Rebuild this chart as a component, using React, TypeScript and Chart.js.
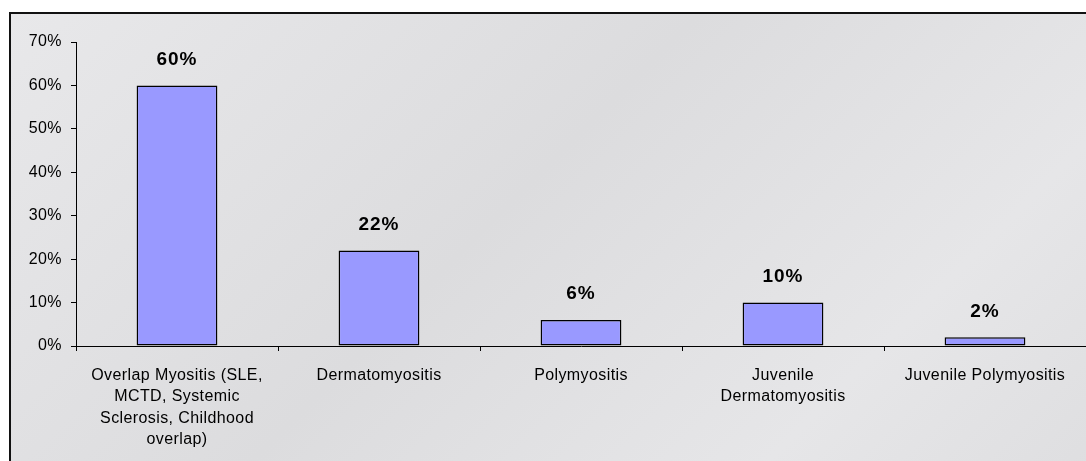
import React, { useEffect, useRef } from "react";
import { Chart, registerables } from "chart.js";

Chart.register(...registerables);

const categories: (string | string[])[] = [
  ["Overlap Myositis (SLE,", "MCTD, Systemic", "Sclerosis, Childhood", "overlap)"],
  "Dermatomyositis",
  "Polymyositis",
  ["Juvenile", "Dermatomyositis"],
  "Juvenile Polymyositis",
];
const percentages = [60, 22, 6, 10, 2];
const yMin = 0;
const yMax = 70;
const yStep = 10;

const FONT = "Arial, 'Liberation Sans', sans-serif";

const valueLabels = {
  id: "valueLabels",
  afterDatasetsDraw(chart: any) {
    const ctx = chart.ctx;
    const meta = chart.getDatasetMeta(0);
    ctx.save();
    ctx.font = `bold 19px ${FONT}`;
    try {
      (ctx as any).letterSpacing = "1px";
    } catch (e) {}
    ctx.fillStyle = "#000";
    ctx.textAlign = "center";
    ctx.textBaseline = "middle";
    meta.data.forEach((bar: any, i: number) => {
      ctx.fillText(`${percentages[i]}%`, bar.x, bar.y - 26);
    });
    ctx.restore();
  },
};

const tickSpacing = {
  id: "tickSpacing",
  beforeDraw(chart: any) {
    try {
      (chart.ctx as any).letterSpacing = "0.4px";
    } catch (e) {}
  },
};

export default function App() {
  const ref = useRef<HTMLCanvasElement>(null);
  useEffect(() => {
    if (!ref.current) return;
    const chart = new Chart(ref.current, {
      type: "bar",
      data: {
        labels: categories,
        datasets: [
          {
            data: percentages,
            backgroundColor: "#9999FF",
            borderColor: "#000000",
            borderWidth: 1.5,
            borderSkipped: false,
            barPercentage: 0.4,
            categoryPercentage: 1,
          },
        ],
      },
      options: {
        responsive: false,
        animation: false,
        layout: { padding: { top: 42, left: 0, right: 0, bottom: 0 } },
        plugins: {
          legend: { display: false },
          tooltip: { enabled: false },
        },
        scales: {
          x: {
            offset: true,
            grid: {
              display: true,
              drawOnChartArea: false,
              offset: true,
              tickLength: 5,
              tickColor: "#000",
            },
            border: { display: true, color: "#000", width: 1 },
            ticks: {
              color: "#000",
              font: { family: FONT, size: 16, lineHeight: 1.33 },
              maxRotation: 0,
              autoSkip: false,
              padding: 14,
            },
            afterFit: (scale: any) => {
              scale.height = 115;
            },
          },
          y: {
            min: yMin,
            max: yMax,
            grid: {
              display: true,
              drawOnChartArea: false,
              tickLength: 5,
              tickColor: "#000",
            },
            border: { display: true, color: "#000", width: 1 },
            ticks: {
              stepSize: yStep,
              color: "#000",
              font: { family: FONT, size: 16 },
              padding: 9,
              callback: (v: any) => `${v}%`,
            },
            afterFit: (scale: any) => {
              scale.width = 76;
            },
          },
        },
      },
      plugins: [tickSpacing, valueLabels],
    });
    return () => chart.destroy();
  }, []);

  return (
    <div
      style={{
        position: "fixed",
        left: 0,
        top: 0,
        width: 1086,
        height: 461,
        overflow: "hidden",
        background: "#ffffff",
      }}
    >
      <div
        style={{
          position: "absolute",
          left: 9,
          top: 12,
          width: 1200,
          height: 520,
          border: "2px solid #111",
          background: "linear-gradient(135deg, #e8e8ea 0%, #dcdcde 40%, #e6e6e8 70%, #dadadc 100%)",
        }}
      />
      <canvas
        ref={ref}
        width={1086}
        height={461}
        style={{ position: "absolute", left: 0, top: 0, width: 1086, height: 461 }}
      />
    </div>
  );
}
